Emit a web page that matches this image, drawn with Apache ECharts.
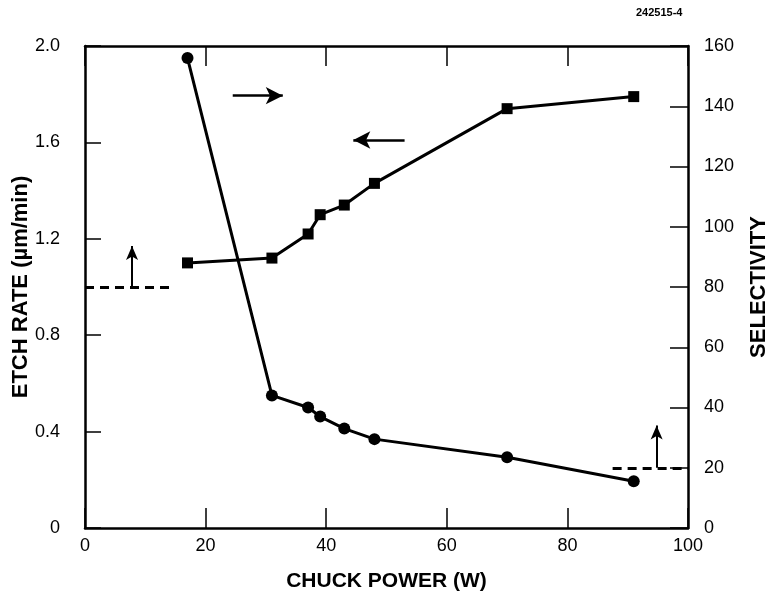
<!DOCTYPE html>
<html>
<head>
<meta charset="utf-8">
<script src="https://cdn.jsdelivr.net/npm/echarts@6/dist/echarts.min.js"></script>
<style>
html,body{margin:0;padding:0;background:#fff;}
#chart{width:771px;height:603px;}
</style>
</head>
<body>
<div id="chart"></div>
<script>
// Chuck power (W)
var chuckPower = [17, 31, 37, 39, 43, 48, 70, 91];
// Etch rate (µm/min), left axis, squares
var etchRate = [1.10, 1.12, 1.22, 1.30, 1.34, 1.43, 1.74, 1.79];
// Selectivity, right axis, circles
var selectivity = [156, 44, 40, 37, 33, 29.5, 23.5, 15.5];

var xTicks = [0, 20, 40, 60, 80, 100];
var leftTicks = [0, 0.4, 0.8, 1.2, 1.6, 2.0];
var rightTicks = [0, 20, 40, 60, 80, 100, 120, 140, 160];

// annotation lines (data coordinates)
var etchBaseline = [[0, 1.0], [14, 1.0]];
var etchUpArrow = [[7.8, 1.0], [7.8, 1.17]];
var etchPointer = [[53, 1.61], [44.5, 1.61]];
var selBaseline = [[87.5, 20], [100, 20]];
var selUpArrow = [[94.8, 20], [94.8, 34]];
var selPointer = [[24.5, 143.5], [32.8, 143.5]];

var chart = echarts.init(document.getElementById('chart'), null, {renderer: 'canvas'});
var FONT = '"Liberation Sans", Arial, Helvetica, sans-serif';

function pairs(xs, ys) { return xs.map(function (x, i) { return [x, ys[i]]; }); }
function seg(a, b, style, sym, size) {
  return [{coord: a, lineStyle: style, symbol: 'none'}, {coord: b, symbol: sym, symbolSize: size}];
}
var thinLine = {type: 'solid', width: 2, color: '#000'};
var dashLine = {type: [9, 6], width: 3, color: '#000'};

var option = {
  animation: false,
  backgroundColor: '#fff',
  textStyle: {fontFamily: FONT, color: '#000'},
  graphic: [{
    type: 'text', left: 636, top: 7,
    style: {text: '242515-4', font: 'bold 11px ' + FONT, fill: '#000'}
  }],
  grid: {left: 85, right: 83, top: 46, bottom: 75, show: false, containLabel: false, outerBoundsMode: 'none'},
  xAxis: [{
    type: 'value', position: 'bottom', min: 0, max: 100, interval: 20,
    name: 'CHUCK POWER (W)', nameLocation: 'middle', nameGap: 43,
    nameTextStyle: {fontFamily: FONT, fontWeight: 'bold', fontSize: 21, color: '#000'},
    axisLine: {show: true, onZero: false, lineStyle: {color: '#000', width: 2.5}},
    axisTick: {show: true, inside: true, length: 20, lineStyle: {color: '#000', width: 1.5}},
    axisLabel: {fontFamily: FONT, fontSize: 18, color: '#000', margin: 9},
    splitLine: {show: false}
  }, {
    type: 'value', position: 'top', min: 0, max: 100, interval: 20,
    axisLine: {show: true, onZero: false, lineStyle: {color: '#000', width: 2.5}},
    axisTick: {show: true, inside: true, length: 20, lineStyle: {color: '#000', width: 1.5}},
    axisLabel: {show: false},
    splitLine: {show: false}
  }],
  yAxis: [{
    type: 'value', position: 'left', min: 0, max: 2.0, interval: 0.4,
    name: 'ETCH RATE (µm/min)', nameLocation: 'middle', nameGap: 53, nameRotate: 90,
    nameMoveOverlap: false,
    nameTextStyle: {fontFamily: FONT, fontWeight: 'bold', fontSize: 22, color: '#000'},
    axisLine: {show: true, onZero: false, lineStyle: {color: '#000', width: 2.5}},
    axisTick: {show: true, inside: true, length: 16, lineStyle: {color: '#000', width: 1.5}},
    axisLabel: {fontFamily: FONT, fontSize: 18, color: '#000', margin: 25,
      formatter: function (v) { return v === 0 ? '0' : v.toFixed(1); }},
    splitLine: {show: false}
  }, {
    type: 'value', position: 'right', min: 0, max: 160, interval: 20,
    name: 'SELECTIVITY', nameLocation: 'middle', nameGap: 60, nameRotate: 90,
    nameTextStyle: {fontFamily: FONT, fontWeight: 'bold', fontSize: 22, color: '#000'},
    axisLine: {show: true, onZero: false, lineStyle: {color: '#000', width: 2.5}},
    axisTick: {show: true, inside: true, length: 18, lineStyle: {color: '#000', width: 1.5}},
    axisLabel: {fontFamily: FONT, fontSize: 18, color: '#000', margin: 16},
    splitLine: {show: false}
  }],
  series: [{
    name: 'Etch rate', type: 'line', xAxisIndex: 0, yAxisIndex: 0,
    data: pairs(chuckPower, etchRate),
    symbol: 'rect', symbolSize: 11, showSymbol: true,
    lineStyle: {color: '#000', width: 3},
    itemStyle: {color: '#000', borderWidth: 0},
    emphasis: {disabled: true},
    markLine: {
      silent: true, animation: false,
      label: {show: false},
      lineStyle: thinLine,
      data: [
        seg(etchBaseline[0], etchBaseline[1], dashLine, 'none', 0),
        seg(etchUpArrow[0], etchUpArrow[1], thinLine, 'arrow', [9, 14]),
        seg(etchPointer[0], etchPointer[1], {type: 'solid', width: 2.5, color: '#000'}, 'arrow', [13, 17])
      ]
    }
  }, {
    name: 'Selectivity', type: 'line', xAxisIndex: 0, yAxisIndex: 1,
    data: pairs(chuckPower, selectivity),
    symbol: 'circle', symbolSize: 12, showSymbol: true,
    lineStyle: {color: '#000', width: 3},
    itemStyle: {color: '#000', borderWidth: 0},
    emphasis: {disabled: true},
    markLine: {
      silent: true, animation: false,
      label: {show: false},
      lineStyle: thinLine,
      data: [
        seg(selBaseline[0], selBaseline[1], dashLine, 'none', 0),
        seg(selUpArrow[0], selUpArrow[1], thinLine, 'arrow', [9, 14]),
        seg(selPointer[0], selPointer[1], {type: 'solid', width: 2.5, color: '#000'}, 'arrow', [13, 17])
      ]
    }
  }]
};
chart.setOption(option);
</script>
</body>
</html>
